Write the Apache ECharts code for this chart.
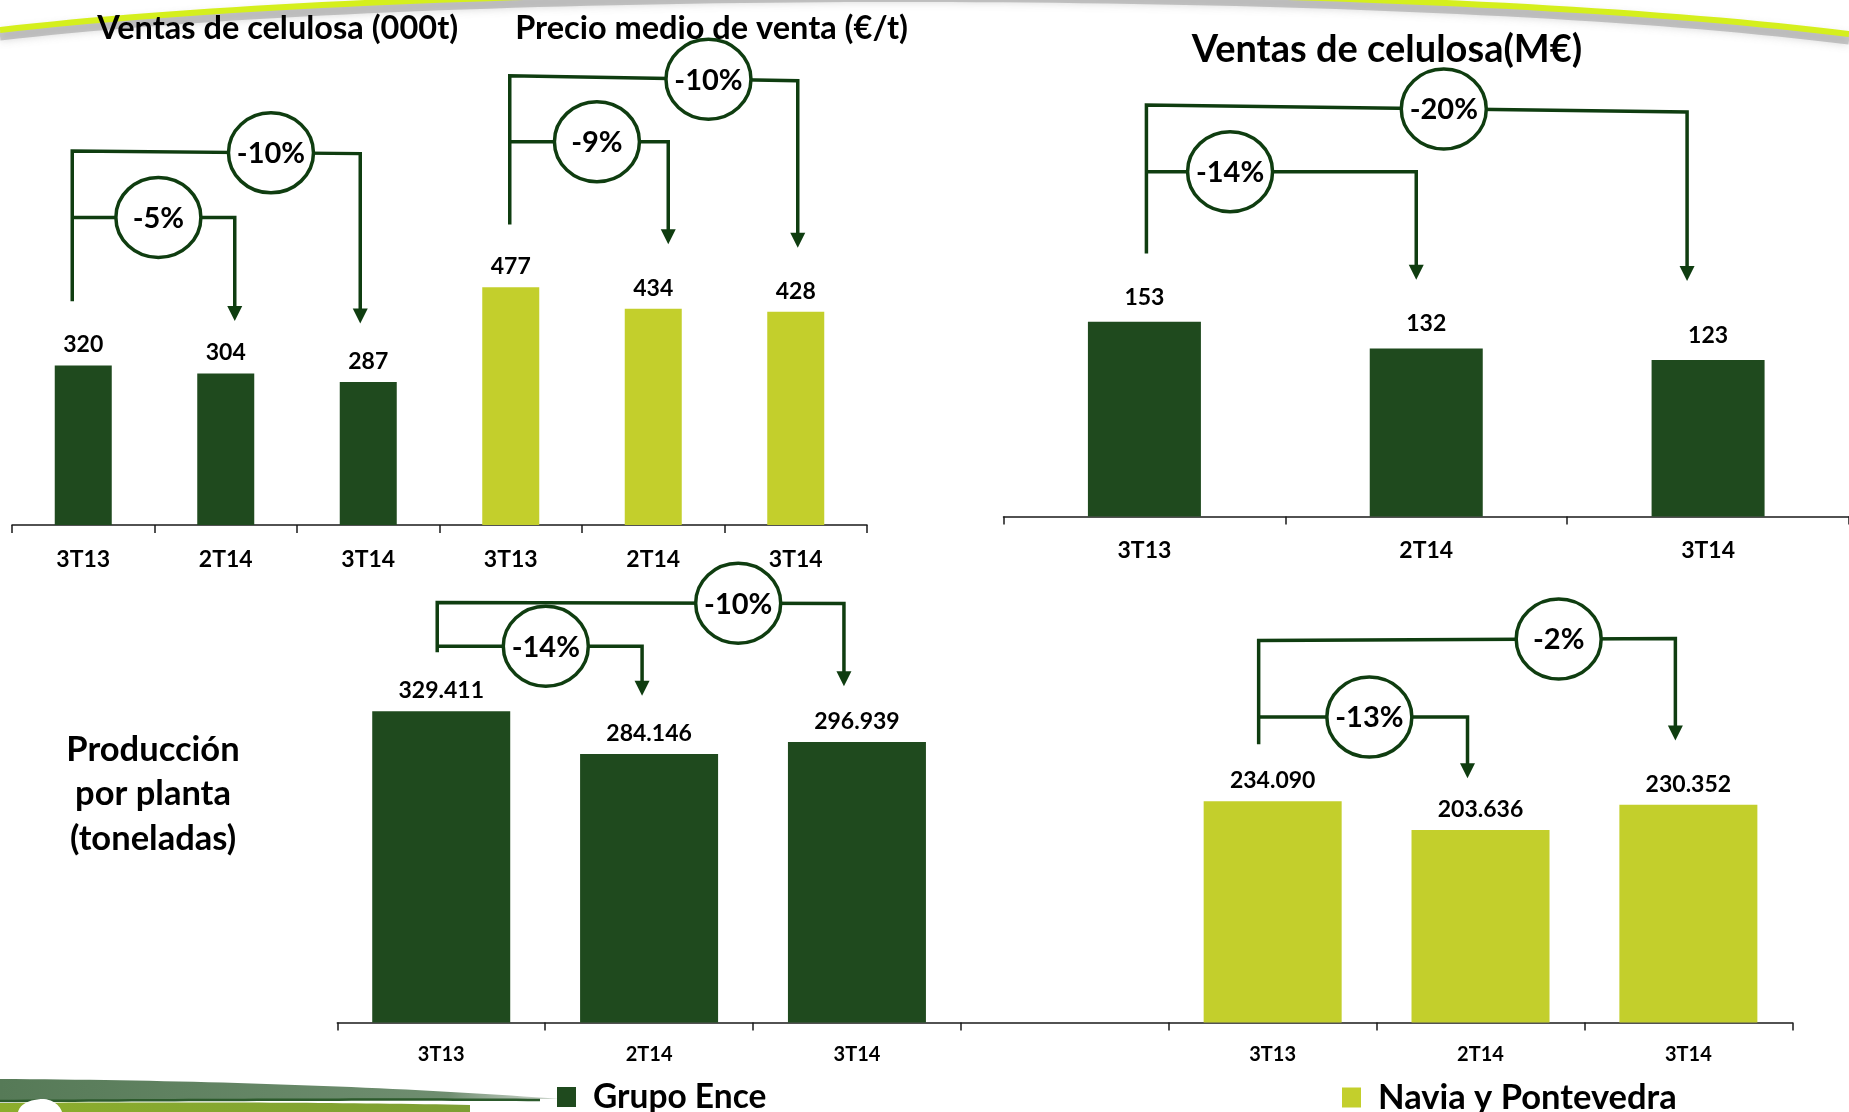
<!DOCTYPE html>
<html>
<head>
<meta charset="utf-8">
<title>Ventas y producción de celulosa</title>
<script src="https://cdn.jsdelivr.net/npm/echarts@6/dist/echarts.min.js"></script>
<style>
  html, body { margin: 0; padding: 0; background: #ffffff; }
  #chart { width: 1849px; height: 1112px; }
</style>
</head>
<body>
<div id="chart"></div>
<script>
// ---- data ----
const quarters = ['3T13', '2T14', '3T14'];
const ventasToneladas = [320, 304, 287];          // ventas de celulosa, miles de t
const precioMedio = [477, 434, 428];              // precio medio de venta, €/t
const ventasMillones = [153, 132, 123];           // ventas de celulosa, M€
const produccionGrupo = [329411, 284146, 296939]; // toneladas, Grupo Ence
const produccionNavia = [234090, 203636, 230352]; // toneladas, Navia y Pontevedra
const seriesNames = ['Grupo Ence', 'Navia y Pontevedra'];

// ---- styling ----
const DARK = '#1f4a1e';
const LIGHT = '#c3cf2c';
const LINE = '#0f3d10';
const FONT = 'Lato, "Open Sans", "DejaVu Sans", sans-serif';
const ARROW = 15;

const blank = n => Array(n).fill('-');
const thousands = v => String(v).replace(/\B(?=(\d{3})+(?!\d))/g, '.');
const pctLabel = (from, to) => Math.round((to / from - 1) * 100) + '%';

const catsTop = quarters.concat(quarters);
const catsRight = quarters.slice();
const catsBottom = quarters.concat([''], quarters);

// Bracket annotations: heights in axis units, x offsets in px from the category centre.
const bracketsTop = [
  { values: ventasToneladas, offset: 0, x0: -11, start: 449,
    legs: [ { to: 1, level: 617, tip: 409, dx: 9, t: 0.53 },
            { to: 2, level: 750, levelEnd: 745, tip: 404, dx: -8, t: 0.69 } ] },
  { values: precioMedio, offset: 3, x0: -1, start: 603,
    legs: [ { to: 1, level: 769, tip: 563, dx: 15, t: 0.55 },
            { to: 2, level: 901, levelEnd: 891, tip: 556, dx: 2, t: 0.69 } ] }
];
const bracketsRight = [
  { values: ventasMillones, offset: 0, x0: 2, start: 206.6,
    legs: [ { to: 1, level: 271, tip: 186, dx: -10, t: 0.31 },
            { to: 2, level: 323.3, levelEnd: 317.8, tip: 185, dx: -21, t: 0.55 } ] }
];
const bracketsBottom = [
  { values: produccionGrupo, offset: 0, x0: -4, start: 392000,
    legs: [ { to: 1, level: 398300, tip: 345900, dx: -7, t: 0.53 },
            { to: 2, level: 444500, levelEnd: 443500, tip: 355900, dx: -13, t: 0.74 } ] },
  { values: produccionNavia, offset: 4, x0: -14, start: 294600,
    legs: [ { to: 1, level: 323300, tip: 258400, dx: -13, t: 0.53 },
            { to: 2, level: 404500, levelEnd: 406500, tip: 298400, dx: -13, t: 0.72 } ] }
];

function bracketRenderer(list) {
  return function (params, api) {
    const b = list[params.dataIndex];
    const pt = (idx, v) => api.coord([idx, v]);
    const x0 = pt(b.offset, 0)[0] + b.x0;
    const yStart = pt(b.offset, b.start)[1];
    const maxLevel = Math.max.apply(null, b.legs.map(l => l.level));
    const lineStyle = { stroke: LINE, lineWidth: 3.5, fill: null, lineJoin: 'miter' };
    const lines = [], marks = [];
    b.legs.forEach(l => {
      const x1 = pt(b.offset + l.to, 0)[0] + l.dx;
      const yL = pt(b.offset, l.level)[1];
      const yR = pt(b.offset, l.levelEnd != null ? l.levelEnd : l.level)[1];
      const yTip = pt(b.offset, l.tip)[1];
      const pts = [[x0, yL], [x1, yR], [x1, yTip - ARROW + 1]];
      if (l.level === maxLevel) pts.unshift([x0, yStart]);
      lines.push({ type: 'polyline', shape: { points: pts }, style: lineStyle });
      lines.push({ type: 'polygon',
        shape: { points: [[x1 - ARROW / 2, yTip - ARROW], [x1 + ARROW / 2, yTip - ARROW], [x1, yTip]] },
        style: { fill: LINE } });
      const cx = x0 + (x1 - x0) * l.t;
      const cy = yL + (yR - yL) * l.t;
      marks.push({ type: 'ellipse', shape: { cx: cx, cy: cy, rx: 42.5, ry: 40 },
        style: { fill: '#ffffff', stroke: LINE, lineWidth: 3.5 } });
      marks.push({ type: 'text',
        style: { text: pctLabel(b.values[0], b.values[l.to]), x: cx, y: cy + 1,
          fill: '#000', font: 'bold 29px ' + FONT,
          align: 'center', verticalAlign: 'middle', textAlign: 'center', textVerticalAlign: 'middle' } });
    });
    return { type: 'group', children: lines.concat(marks) };
  };
}

function axisX(gridIndex, data, fontSize, margin) {
  return {
    type: 'category', gridIndex: gridIndex, data: data,
    axisLine: { show: true, lineStyle: { color: '#1a1a1a', width: 1.5 } },
    axisTick: { show: true, alignWithLabel: false, interval: 0, length: 8, inside: false,
      lineStyle: { color: '#1a1a1a', width: 1.5 } },
    axisLabel: { color: '#000', fontFamily: FONT, fontWeight: 'bold', fontSize: fontSize, margin: margin, interval: 0 },
    splitLine: { show: false }
  };
}

function barLabel(distance, formatter) {
  return { show: true, position: 'top', distance: distance, color: '#000',
    fontFamily: FONT, fontWeight: 'bold', fontSize: 23, formatter: formatter };
}

function textEl(text, x, y, size, extra) {
  return { type: 'text', x: x, y: y, z: 10,
    style: Object.assign({ text: text, fill: '#000', font: 'bold ' + size + 'px ' + FONT,
      align: 'center', verticalAlign: 'middle', textAlign: 'center', textVerticalAlign: 'middle' }, extra || {}) };
}

// sample a cubic Bézier into a point list for the decorative swooshes
function bezier(p0, p1, p2, p3, n) {
  const pts = [];
  for (let i = 0; i <= n; i++) {
    const t = i / n, u = 1 - t;
    pts.push([
      u * u * u * p0[0] + 3 * u * u * t * p1[0] + 3 * u * t * t * p2[0] + t * t * t * p3[0],
      u * u * u * p0[1] + 3 * u * u * t * p1[1] + 3 * u * t * t * p2[1] + t * t * t * p3[1]
    ]);
  }
  return pts;
}

const headerCurve = bezier([0, 30], [450, -22], [1400, -22], [1849, 34], 80);
const headerShadow = headerCurve.map(p => [p[0], p[1] + 6]);
const footerBand = bezier([0, 1079], [200, 1080], [400, 1087], [560, 1099], 40)
  .concat(bezier([560, 1099], [400, 1099], [200, 1100], [0, 1101], 40));
const footerLine = bezier([0, 1101], [200, 1100], [380, 1099], [540, 1100], 40);
const footerFill = bezier([0, 1103], [150, 1102], [320, 1102], [470, 1105], 40).concat([[470, 1112], [0, 1112]]);
const leaf = bezier([18, 1112], [20, 1104], [30, 1099], [44, 1099], 12)
  .concat(bezier([44, 1099], [54, 1100], [60, 1106], [62, 1112], 12));

const chart = echarts.init(document.getElementById('chart'), null, { renderer: 'canvas' });

const option = {
  backgroundColor: '#ffffff',
  animation: false,
  grid: [
    { left: 12, top: 26.5, width: 855, height: 498.5 },
    { left: 1003.5, top: 7.5, width: 849.5, height: 509 },
    { left: 337.3, top: 550.2, width: 1455, height: 472.2 }
  ],
  xAxis: [
    axisX(0, catsTop, 23, 23),
    axisX(1, catsRight, 23, 23),
    axisX(2, catsBottom, 20, 22)
  ],
  yAxis: [
    { type: 'value', gridIndex: 0, min: 0, max: 1000, show: false },
    { type: 'value', gridIndex: 1, min: 0, max: 400, show: false },
    { type: 'value', gridIndex: 2, min: 0, max: 500000, show: false }
  ],
  legend: [
    { data: [seriesNames[0]], left: 557, top: 1080, padding: 0, selectedMode: false,
      icon: 'rect', itemWidth: 19, itemHeight: 20,
      textStyle: { color: '#000', fontFamily: FONT, fontWeight: 'bold', fontSize: 33.5, padding: [0, 0, 0, 12] } },
    { data: [seriesNames[1]], left: 1342, top: 1080, padding: 0, selectedMode: false,
      icon: 'rect', itemWidth: 19, itemHeight: 20,
      textStyle: { color: '#000', fontFamily: FONT, fontWeight: 'bold', fontSize: 34.5, padding: [0, 0, 0, 12] } }
  ],
  series: [
    { name: seriesNames[0], type: 'bar', xAxisIndex: 0, yAxisIndex: 0, stack: 'top',
      barWidth: 57, itemStyle: { color: DARK }, label: barLabel(9),
      data: ventasToneladas.concat(blank(3)) },
    { name: seriesNames[1], type: 'bar', xAxisIndex: 0, yAxisIndex: 0, stack: 'top',
      barWidth: 57, itemStyle: { color: LIGHT }, label: barLabel(9),
      data: blank(3).concat(precioMedio) },
    { name: seriesNames[0], type: 'bar', xAxisIndex: 1, yAxisIndex: 1,
      barWidth: 113, itemStyle: { color: DARK }, label: barLabel(13),
      data: ventasMillones },
    { name: seriesNames[0], type: 'bar', xAxisIndex: 2, yAxisIndex: 2, stack: 'bottom',
      barWidth: 138, itemStyle: { color: DARK }, label: barLabel(9, p => thousands(p.value)),
      data: produccionGrupo.concat(blank(4)) },
    { name: seriesNames[1], type: 'bar', xAxisIndex: 2, yAxisIndex: 2, stack: 'bottom',
      barWidth: 138, itemStyle: { color: LIGHT }, label: barLabel(9, p => thousands(p.value)),
      data: blank(4).concat(produccionNavia) },
    { type: 'custom', xAxisIndex: 0, yAxisIndex: 0, clip: false, z: 5,
      renderItem: bracketRenderer(bracketsTop),
      data: bracketsTop.map(b => [b.offset, b.start]) },
    { type: 'custom', xAxisIndex: 1, yAxisIndex: 1, clip: false, z: 5,
      renderItem: bracketRenderer(bracketsRight),
      data: bracketsRight.map(b => [b.offset, b.start]) },
    { type: 'custom', xAxisIndex: 2, yAxisIndex: 2, clip: false, z: 5,
      renderItem: bracketRenderer(bracketsBottom),
      data: bracketsBottom.map(b => [b.offset, b.start]) }
  ],
  graphic: [
    // header swoosh
    { type: 'polyline', z: 1, silent: true, shape: { points: headerShadow },
      style: { fill: null, stroke: 'rgba(150,150,150,0.5)', lineWidth: 9,
        shadowBlur: 8, shadowColor: 'rgba(120,120,120,0.6)' } },
    { type: 'polyline', z: 2, silent: true, shape: { points: headerCurve },
      style: { fill: null, stroke: '#d5ef1d', lineWidth: 6 } },
    // footer swoosh
    { type: 'polygon', z: 1, silent: true, shape: { points: footerBand },
      style: { fill: new echarts.graphic.LinearGradient(0, 0, 1, 0, [
        { offset: 0, color: '#567a57' }, { offset: 0.8, color: '#6f8e70' }, { offset: 1, color: 'rgba(140,160,140,0.4)' }]) } },
    { type: 'polyline', z: 1, silent: true, shape: { points: footerLine },
      style: { fill: null, stroke: '#2c5a2c', lineWidth: 2.5 } },
    { type: 'polygon', z: 1, silent: true, shape: { points: footerFill },
      style: { fill: new echarts.graphic.LinearGradient(0, 0, 1, 0, [
        { offset: 0, color: '#8cae2c' }, { offset: 1, color: '#7d9f34' }]) } },
    { type: 'polygon', z: 2, silent: true, shape: { points: leaf },
      style: { fill: '#ffffff' } },
    // titles
    textEl('Ventas de celulosa (000t)', 277.7, 28.5, 32.5),
    textEl('Precio medio de venta (€/t)', 711.6, 28.5, 32.5),
    textEl('Ventas de celulosa(M€)', 1387, 49.5, 38),
    textEl('Producción\npor planta\n(toneladas)', 153, 794, 34.5, { lineHeight: 44.5 })
  ]
};

chart.setOption(option);
</script>
</body>
</html>
